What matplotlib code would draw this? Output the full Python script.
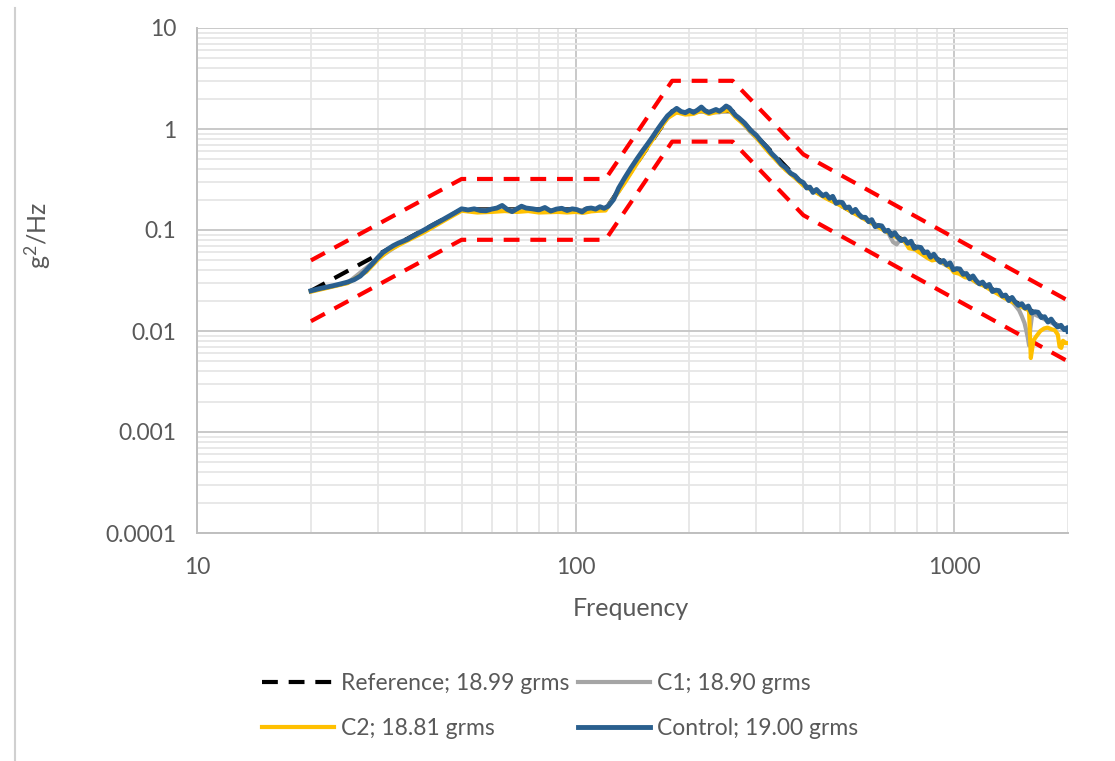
import matplotlib
matplotlib.use("Agg")
import matplotlib.pyplot as plt
from matplotlib.ticker import LogLocator, FixedLocator, FixedFormatter, NullFormatter
from matplotlib.lines import Line2D

# ---------------- data ----------------
prof_freq = [20, 50, 120, 180, 260, 400, 2000]
ref_val = [0.025, 0.16, 0.16, 1.5, 1.5, 0.28, 0.01]
upper_val = [0.05, 0.32, 0.32, 3.0, 3.0, 0.56, 0.02]
lower_val = [0.0125, 0.08, 0.08, 0.75, 0.75, 0.14, 0.005]

ctrl_freq = [20, 21, 22, 23, 24, 25, 26, 27, 28, 29, 30, 31, 32, 33, 34, 35, 36, 38, 40, 42, 44, 46, 48, 50,
             52, 54, 56, 58, 60, 62, 64, 66, 68, 70, 72, 74, 77, 80, 83, 86, 89, 92, 95, 98, 101, 104, 107,
             110, 113, 116, 119, 122, 126, 130, 135, 140, 145, 150, 155, 160, 165, 170, 175, 180, 185, 190,
             195, 200, 205, 210, 215, 220, 225, 230, 235, 240, 245, 250, 255, 260, 265, 270, 280, 290, 300,
             310, 320, 330, 340, 350, 360, 370, 380, 390,
             400, 408, 416, 424, 433, 441, 450, 459, 469, 478, 488, 497, 507, 517, 528, 538, 549, 560, 571,
             583, 595, 606, 619, 631, 644, 657, 670, 683, 697, 711, 725, 740, 754, 770, 785, 801, 817, 833,
             850, 867, 884, 902, 920, 938, 957, 976, 996, 1016, 1036, 1057, 1078, 1100, 1122, 1144, 1167,
             1190, 1214, 1239, 1263, 1289, 1314, 1341, 1368, 1395, 1423, 1451, 1480, 1510, 1540, 1571, 1603,
             1635, 1667, 1701, 1735, 1770, 1805, 1841, 1878, 1916, 1954, 1993, 2000]
ctrl_val = [0.0250, 0.0262, 0.0272, 0.0282, 0.0293, 0.0305, 0.0322, 0.0350, 0.0400, 0.0460, 0.0530, 0.0600,
            0.0650, 0.0700, 0.0740, 0.0775, 0.0810, 0.0910, 0.1010, 0.1120, 0.1230, 0.1350, 0.1480, 0.1620,
            0.1580, 0.1620, 0.1560, 0.1550, 0.1610, 0.1650, 0.1750, 0.1600, 0.1520, 0.1620, 0.1720, 0.1650,
            0.1620, 0.1580, 0.1670, 0.1540, 0.1610, 0.1640, 0.1560, 0.1620, 0.1590, 0.1510, 0.1630, 0.1650,
            0.1610, 0.1700, 0.1640, 0.1720, 0.2000, 0.2600, 0.3300, 0.4100, 0.5000, 0.6000, 0.7100, 0.8400,
            1.0000, 1.1700, 1.3500, 1.4800, 1.6000, 1.4900, 1.4500, 1.5300, 1.4600, 1.5400, 1.6500, 1.5200,
            1.4600, 1.5100, 1.5600, 1.5000, 1.5800, 1.6900, 1.6200, 1.4800, 1.3600, 1.2900, 1.1400, 0.9700,
            0.8700, 0.7500, 0.6600, 0.5700, 0.5100, 0.4450, 0.4100, 0.3650, 0.3450, 0.3100,
            0.2940, 0.2606, 0.2656, 0.2352, 0.2519, 0.2348, 0.2186, 0.2272, 0.2056, 0.2154, 0.1836, 0.1891,
            0.1870, 0.1657, 0.1689, 0.1495, 0.1601, 0.1435, 0.1336, 0.1335, 0.1208, 0.1266, 0.1079, 0.1112,
            0.1098, 0.0974, 0.0993, 0.0879, 0.0941, 0.0843, 0.0785, 0.0816, 0.0738, 0.0774, 0.0659, 0.0679,
            0.0671, 0.0596, 0.0607, 0.0537, 0.0576, 0.0516, 0.0480, 0.0499, 0.0451, 0.0473, 0.0403, 0.0415,
            0.0411, 0.0364, 0.0371, 0.0328, 0.0351, 0.0315, 0.0293, 0.0305, 0.0275, 0.0289, 0.0246, 0.0254,
            0.0251, 0.0222, 0.0227, 0.0200, 0.0215, 0.01926, 0.01792, 0.01864, 0.01686, 0.01767, 0.01506,
            0.01551, 0.01533, 0.01359, 0.01385, 0.01226, 0.01313, 0.01177, 0.01095, 0.01139, 0.01030,
            0.01080, 0.00990]

c1_freq = [20, 25, 30, 35, 40, 45, 50, 60, 70, 80, 90, 100, 110, 120, 130, 140, 150, 160, 170, 180, 190, 200,
           210, 220, 230, 240, 250, 260, 270, 290, 310, 330, 350, 380, 400, 430, 460, 500, 540, 580, 620, 650,
           670, 690, 705, 720, 740, 770, 800, 850, 900, 950, 1000, 1050, 1100, 1150, 1200, 1250, 1300, 1350,
           1400, 1422, 1450, 1486, 1510, 1535, 1550, 1565, 1578, 1590, 1610, 1650, 1700, 1750, 1800, 1850,
           1900, 1950, 2000]
c1_val = [0.0248, 0.0300, 0.0520, 0.0765, 0.0990, 0.1270, 0.1580, 0.1560, 0.1570, 0.1550, 0.1580, 0.1560,
          0.1600, 0.1620, 0.2400, 0.3800, 0.5600, 0.8000, 1.1200, 1.4500, 1.4600, 1.4900, 1.5100, 1.4900,
          1.4700, 1.4600, 1.6200, 1.4400, 1.2600, 0.9300, 0.7300, 0.5550, 0.4350, 0.3300, 0.2850, 0.2400,
          0.2100, 0.1780, 0.1530, 0.1310, 0.1130, 0.1010, 0.0940, 0.0760, 0.0720, 0.0800, 0.0770, 0.0710,
          0.0650, 0.0570, 0.0510, 0.0450, 0.0410, 0.0370, 0.0335, 0.0300, 0.0282, 0.0258, 0.0238, 0.0222,
          0.0206, 0.0195, 0.0180, 0.0160, 0.0140, 0.0120, 0.0103, 0.0087, 0.0072, 0.0105, 0.0150, 0.0143,
          0.0136, 0.0128, 0.0122, 0.0117, 0.0111, 0.0106, 0.0099]

c2_freq = [20, 25, 28, 30, 32, 35, 40, 45, 50, 55, 60, 65, 70, 75, 80, 85, 90, 95, 100, 105, 110, 115, 120,
           125, 135, 145, 155, 165, 175, 185, 195, 205, 215, 225, 235, 245, 255, 265, 280, 300, 320, 340, 360,
           380, 400, 430, 460, 500, 540, 580, 620, 660, 700, 740, 760, 790, 820, 850, 875, 900, 940, 980, 1000,
           1030, 1070, 1100, 1150, 1200, 1250, 1300, 1350, 1400, 1450, 1500, 1550, 1578, 1595, 1620, 1647,
           1690, 1730, 1765, 1810, 1845, 1880, 1900, 1920, 1940, 1970, 2000]
c2_val = [0.0245, 0.0298, 0.0385, 0.0505, 0.0625, 0.0745, 0.0960, 0.1240, 0.1550, 0.1490, 0.1510, 0.1540,
          0.1510, 0.1540, 0.1490, 0.1500, 0.1510, 0.1490, 0.1510, 0.1480, 0.1530, 0.1550, 0.1560, 0.1950,
          0.2950, 0.4500, 0.6600, 0.9400, 1.2800, 1.4600, 1.3900, 1.4100, 1.5200, 1.4100, 1.4700, 1.5000,
          1.5300, 1.3000, 1.0900, 0.8300, 0.6200, 0.4850, 0.3900, 0.3300, 0.2750, 0.2380, 0.2050, 0.1760,
          0.1490, 0.1280, 0.1110, 0.0970, 0.0860, 0.0770, 0.0660, 0.0640, 0.0580, 0.0530, 0.0500, 0.0510,
          0.0470, 0.0420, 0.0380, 0.0370, 0.0340, 0.0335, 0.0300, 0.0280, 0.0255, 0.0235, 0.0215, 0.0200,
          0.0188, 0.0175, 0.0165, 0.0160, 0.0054, 0.0080, 0.0088, 0.0100, 0.0106, 0.0108, 0.0104, 0.0102,
          0.0092, 0.0070, 0.0068, 0.0080, 0.0076, 0.0076]

labels = ["Reference; 18.99 grms", "C1; 18.90 grms", "C2; 18.81 grms", "Control; 19.00 grms"]
y_ticks = [0.0001, 0.001, 0.01, 0.1, 1, 10]
y_ticklabels = ["0.0001", "0.001", "0.01", "0.1", "1", "10"]
x_ticks = [10, 100, 1000]
x_ticklabels = ["10", "100", "1000"]

# ---------------- style ----------------
FONT = ["Lato", "DejaVu Sans"]
plt.rcParams["font.family"] = FONT
TXT = "#595959"
RED = "#FF0000"
BLUE = "#2A5F8E"
GREY = "#A5A5A5"
GOLD = "#FFC000"

W, H = 1115, 761
fig = plt.figure(figsize=(W / 100, H / 100), dpi=100)
fig.patch.set_facecolor("white")
ax = fig.add_axes([197 / W, 1 - 533 / H, (1068 - 197) / W, (533 - 28) / H])

lw = 3.0
DASH = (3.8, 2.6)
ax.plot(prof_freq, upper_val, color=RED, lw=lw, dashes=DASH, zorder=2)
ax.plot(prof_freq, lower_val, color=RED, lw=lw, dashes=DASH, zorder=2)
h_ref, = ax.plot(prof_freq, ref_val, color="black", lw=lw, dashes=DASH, zorder=3, label=labels[0])
h_c1, = ax.plot(c1_freq, c1_val, color=GREY, lw=lw, zorder=4, label=labels[1], solid_joinstyle="round")
h_c2, = ax.plot(c2_freq, c2_val, color=GOLD, lw=lw, zorder=5, label=labels[2], solid_joinstyle="round")
h_ct, = ax.plot(ctrl_freq, ctrl_val, color=BLUE, lw=3.5, zorder=6, label=labels[3], solid_joinstyle="round")

ax.set_xscale("log")
ax.set_yscale("log")
ax.set_xlim(10, 2000)
ax.set_ylim(0.0001, 10)

ax.xaxis.set_major_locator(FixedLocator(x_ticks))
ax.xaxis.set_major_formatter(FixedFormatter(x_ticklabels))
ax.xaxis.set_minor_locator(LogLocator(base=10, subs=range(2, 10), numticks=20))
ax.xaxis.set_minor_formatter(NullFormatter())
ax.yaxis.set_major_locator(FixedLocator(y_ticks))
ax.yaxis.set_major_formatter(FixedFormatter(y_ticklabels))
ax.yaxis.set_minor_locator(LogLocator(base=10, subs=range(2, 10), numticks=20))
ax.yaxis.set_minor_formatter(NullFormatter())

ax.grid(which="major", color="#c9c9c9", lw=1.4, zorder=0)
ax.grid(which="minor", color="#e6e6e6", lw=1.3, zorder=0)
ax.set_axisbelow(True)

for s in ["top", "right"]:
    ax.spines[s].set_visible(False)
for s in ["left", "bottom"]:
    ax.spines[s].set_color("#bfbfbf")
    ax.spines[s].set_linewidth(1.4)

ax.tick_params(which="both", length=0)
ax.tick_params(axis="x", pad=17, labelsize=16.5, labelcolor=TXT)
ax.tick_params(axis="y", pad=15, labelsize=16.5, labelcolor=TXT)

ax.set_xlabel("Frequency", fontsize=18, color=TXT)
ax.xaxis.label.set_va("center")
ax.xaxis.set_label_coords((631 - 197) / 871, -(608 - 533) / 505)
ax.set_ylabel(r"$\mathregular{g^2}$/Hz", fontsize=18, color=TXT)
ax.yaxis.label.set_va("center")
ax.yaxis.set_label_coords((38 - 197) / 871, 1 - (236 - 28) / 505)

# legend (two columns placed independently)
leg_kw = dict(frameon=False, fontsize=16.5, labelcolor=TXT, handlelength=3.15, handletextpad=0.3,
              borderpad=0, borderaxespad=0, labelspacing=1.03, loc="upper left")
leg1 = fig.legend([h_ref, h_c2], [labels[0], labels[2]], bbox_to_anchor=(262 / W, 1 - 673 / H), **leg_kw)
leg2 = fig.legend([h_c1, h_ct], [labels[1], labels[3]], bbox_to_anchor=(578 / W, 1 - 673 / H), **leg_kw)

# chart frame line on the left
fig.add_artist(Line2D([15 / W, 15 / W], [0, 1 - 8 / H], color="#d0d0d0", lw=1.5))

fig.savefig("out.png", dpi=100, facecolor="white")
